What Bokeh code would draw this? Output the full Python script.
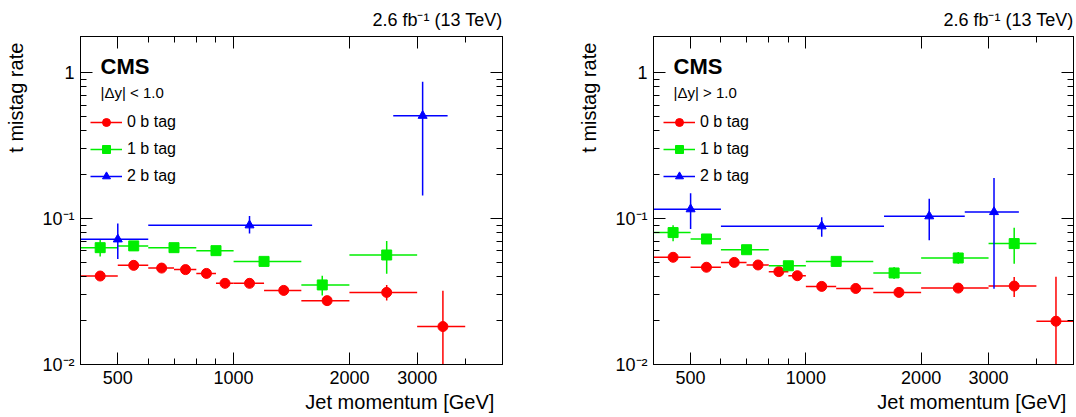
from bokeh.plotting import figure
from bokeh.models import (ColumnDataSource, FixedTicker, Label, Legend, LegendItem,
                          LogAxis, Range1d, Title)
from bokeh.layouts import row
from bokeh.embed import file_html
from bokeh.resources import INLINE

FONT = "Liberation Sans"
NB = "\u00a0"

# |dy| < 1.0
l0_lo = [400, 500, 600, 700, 800, 900, 1000, 1200, 1500, 2000, 3000]
l0_hi = [500, 600, 700, 800, 900, 1000, 1200, 1500, 2000, 3000, 4000]
l0_x = [450, 550, 650, 750, 850, 950, 1100, 1350, 1750, 2500, 3500]
l0_y = [0.0404, 0.0478, 0.0458, 0.0447, 0.0421, 0.0360, 0.0360, 0.0322, 0.0274, 0.0312, 0.0182]
l0_elo = [0.0390, 0.0462, 0.0444, 0.0433, 0.0406, 0.0347, 0.0346, 0.0308, 0.0255, 0.0275, 0.0100]
l0_ehi = [0.0418, 0.0494, 0.0472, 0.0461, 0.0436, 0.0373, 0.0374, 0.0336, 0.0293, 0.0350, 0.0320]

l1_lo = [400, 500, 600, 800, 1000, 1500, 2000]
l1_hi = [500, 600, 800, 1000, 1500, 2000, 3000]
l1_x = [450, 550, 700, 900, 1200, 1700, 2500]
l1_y = [0.0632, 0.0650, 0.0632, 0.0603, 0.0509, 0.0351, 0.0563]
l1_elo = [0.0550, 0.0610, 0.0605, 0.0575, 0.0475, 0.0297, 0.0419]
l1_ehi = [0.0717, 0.0690, 0.0660, 0.0630, 0.0545, 0.0406, 0.0703]

l2_lo = [400, 600, 2600]
l2_hi = [600, 1600, 3600]
l2_x = [500, 1100, 3100]
l2_y = [0.0721, 0.0900, 0.507]
l2_elo = [0.0528, 0.0790, 0.144]
l2_ehi = [0.0927, 0.1040, 0.867]

# |dy| > 1.0
r0_lo = [400, 500, 600, 700, 800, 900, 1000, 1200, 1500, 2000, 3000, 4000]
r0_hi = [500, 600, 700, 800, 900, 1000, 1200, 1500, 2000, 3000, 4000, 5000]
r0_x = [450, 550, 650, 750, 850, 950, 1100, 1350, 1750, 2500, 3500, 4500]
r0_y = [0.0543, 0.0464, 0.0501, 0.0481, 0.0433, 0.0406, 0.0343, 0.0332, 0.0312, 0.0334, 0.0345, 0.0198]
r0_elo = [0.0528, 0.0450, 0.0486, 0.0466, 0.0418, 0.0390, 0.0330, 0.0318, 0.0298, 0.0318, 0.0290, 0.0100]
r0_ehi = [0.0558, 0.0478, 0.0516, 0.0496, 0.0448, 0.0422, 0.0356, 0.0346, 0.0326, 0.0350, 0.0398, 0.0400]

r1_lo = [400, 500, 600, 800, 1000, 1500, 2000, 3000]
r1_hi = [500, 600, 800, 1000, 1500, 2000, 3000, 4000]
r1_x = [450, 550, 700, 900, 1200, 1700, 2500, 3500]
r1_y = [0.0802, 0.0725, 0.0612, 0.0475, 0.0509, 0.0424, 0.0537, 0.0674]
r1_elo = [0.0700, 0.0680, 0.0585, 0.0445, 0.0480, 0.0385, 0.0490, 0.0490]
r1_ehi = [0.0900, 0.0770, 0.0640, 0.0505, 0.0540, 0.0465, 0.0590, 0.0864]

r2_lo = [400, 600, 1600, 2600]
r2_hi = [600, 1600, 2600, 3600]
r2_x = [500, 1100, 2100, 3100]
r2_y = [0.116, 0.0886, 0.1038, 0.111]
r2_elo = [0.085, 0.075, 0.071, 0.033]
r2_ehi = [0.149, 0.102, 0.137, 0.190]

x_ticks = [500, 1000, 2000, 3000]
x_minor = [400, 600, 700, 800, 900, 4000, 5000]
y_ticks = [0.01, 0.1, 1]
y_minor = [k * 0.01 for k in range(2, 10)] + [k * 0.1 for k in range(2, 10)]

FH = 328


def style_axis(ax, labels=True):
    ax.major_tick_in = 12
    ax.major_tick_out = 0
    ax.minor_tick_in = 6
    ax.minor_tick_out = 0
    ax.axis_line_color = "black"
    ax.major_tick_line_color = "black"
    ax.minor_tick_line_color = "black"
    ax.major_label_text_font = FONT
    ax.major_label_text_font_size = "18px"
    ax.major_label_text_color = "black"
    ax.major_label_standoff = 6
    ax.axis_label_text_font = FONT
    ax.axis_label_text_font_size = "20px"
    ax.axis_label_text_font_style = "normal"
    ax.axis_label_text_color = "black"
    if not labels:
        ax.major_label_text_alpha = 0
        ax.major_label_text_font_size = "1px"
        ax.major_label_standoff = 0


def series(p, lo, hi, x, y, elo, ehi, color, marker, size):
    src = ColumnDataSource(dict(lo=lo, hi=hi, x=x, y=y, elo=elo, ehi=ehi))
    p.segment(x0="lo", x1="hi", y0="y", y1="y", source=src, color=color, line_width=1.5)
    p.segment(x0="x", x1="x", y0="elo", y1="ehi", source=src, color=color, line_width=1.5)
    return p.scatter(x="x", y="y", source=src, color=color, marker=marker, size=size)


def panel(cut, d0, d1, d2, left_border, width, right_border):
    p = figure(x_axis_type="log", y_axis_type="log", output_backend="svg",
               toolbar_location=None, frame_width=width, frame_height=FH,
               min_border_left=left_border, min_border_right=right_border,
               min_border_top=0, min_border_bottom=0,
               x_range=Range1d(400, 5000), y_range=Range1d(0.01, 1.77))
    p.grid.visible = False
    p.outline_line_color = "black"
    bottom_ax = p.below[0]
    left_ax = p.left[0]
    bottom_ax.ticker = FixedTicker(ticks=x_ticks, minor_ticks=x_minor)
    left_ax.ticker = FixedTicker(ticks=y_ticks, minor_ticks=y_minor)
    bottom_ax.major_label_overrides = {500: "500", 1000: "1000", 2000: "2000", 3000: "3000"}
    left_ax.major_label_overrides = {0.01: "10⁻²", 0.1: "10⁻¹", 1: "1"}
    bottom_ax.axis_label = NB * 39 + "Jet momentum [GeV]"
    bottom_ax.axis_label_standoff = 4
    left_ax.axis_label = NB * 37 + "t mistag rate"
    left_ax.axis_label_standoff = 12
    top = LogAxis(ticker=FixedTicker(ticks=x_ticks, minor_ticks=x_minor))
    right = LogAxis(ticker=FixedTicker(ticks=y_ticks, minor_ticks=y_minor))
    p.add_layout(top, "above")
    p.add_layout(right, "right")
    style_axis(bottom_ax)
    style_axis(left_ax)
    style_axis(top, labels=False)
    style_axis(right, labels=False)
    p.add_layout(Title(text="2.6 fb⁻¹ (13 TeV)", align="right", text_font=FONT,
                       text_font_size="18px", text_font_style="normal",
                       text_color="black", standoff=14), "above")

    r0 = series(p, *d0, "#ff0000", "circle", 10)
    r1 = series(p, *d1, "#00ee00", "square", 10)
    r2 = series(p, *d2, "#0000ff", "triangle", 9)
    lines = [p.segment(x0=[450], x1=[450], y0=[0.05], y1=[0.05], color=c, line_width=1.5)
             for c in ["#ff0000", "#00ee00", "#0000ff"]]
    leg = Legend(items=[LegendItem(label="0 b tag", renderers=[lines[0], r0]),
                        LegendItem(label="1 b tag", renderers=[lines[1], r1]),
                        LegendItem(label="2 b tag", renderers=[lines[2], r2])],
                 location=(6, 174), border_line_alpha=0, background_fill_alpha=0,
                 label_text_font=FONT, label_text_font_size="16px", label_text_color="black",
                 glyph_width=32, glyph_height=20, label_height=20, spacing=7, padding=4)
    p.add_layout(leg)

    p.add_layout(Label(x=20, y=FH - 42, x_units="screen", y_units="screen", text="CMS",
                       text_font=FONT, text_font_style="bold", text_font_size="22px",
                       text_color="black"))
    p.add_layout(Label(x=20, y=FH - 64, x_units="screen", y_units="screen", text=cut,
                       text_font=FONT, text_font_size="15px", text_color="black"))
    return p


left = panel("|Δy| < 1.0",
             (l0_lo, l0_hi, l0_x, l0_y, l0_elo, l0_ehi),
             (l1_lo, l1_hi, l1_x, l1_y, l1_elo, l1_ehi),
             (l2_lo, l2_hi, l2_x, l2_y, l2_elo, l2_ehi), 80, 422, 4)
right = panel("|Δy| > 1.0",
              (r0_lo, r0_hi, r0_x, r0_y, r0_elo, r0_ehi),
              (r1_lo, r1_hi, r1_x, r1_y, r1_elo, r1_ehi),
              (r2_lo, r2_hi, r2_x, r2_y, r2_elo, r2_ehi), 147, 420, 1)
layout = row(left, right)
open("out.html", "w").write(file_html(layout, INLINE))
